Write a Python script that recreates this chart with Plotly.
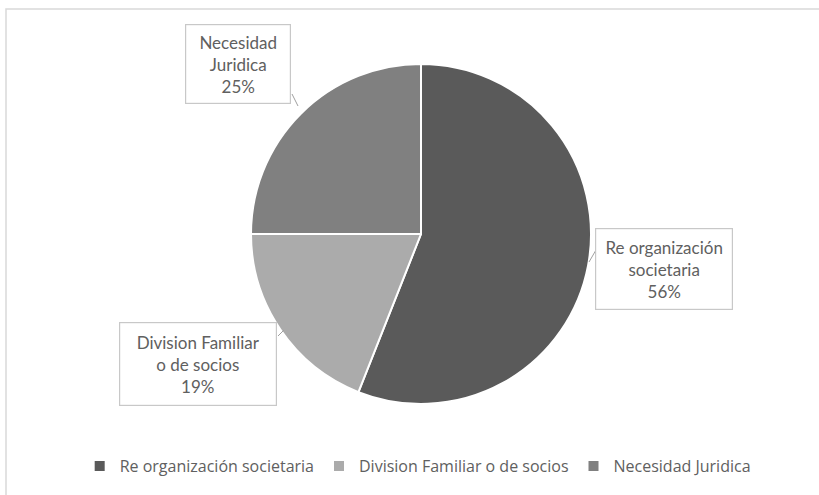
import plotly.graph_objects as go

# Chart data
categories = ["Re organización societaria", "Division Familiar o de socios", "Necesidad Juridica"]
callout_names = ["Re organización<br>societaria", "Division Familiar<br>o de socios", "Necesidad<br>Juridica"]
shares = [56, 19, 25]
slice_colors = ["#5a5a5a", "#ababab", "#808080"]

W, H = 819, 495


def px(x):
    return x / W


def py(y):
    return 1 - y / H


# pie centre / radius in pixels
cx, cy, r = 421, 234, 170

fig = go.Figure(
    go.Pie(
        labels=categories,
        values=shares,
        sort=False,
        direction="clockwise",
        rotation=0,
        marker=dict(colors=slice_colors, line=dict(color="white", width=2)),
        textinfo="none",
        hoverinfo="label+percent",
        domain=dict(x=[px(cx - r), px(cx + r)], y=[py(cy + r), py(cy - r)]),
    )
)

# callout boxes: centre x, centre y, width, height (pixels)
boxes = [(664, 269, 138, 82), (198, 364, 158, 84), (238, 64, 106, 80)]
total = sum(shares)
annotations = []
for name, val, (bx, by, bw, bh) in zip(callout_names, shares, boxes):
    annotations.append(
        dict(
            x=px(bx), y=py(by), xref="paper", yref="paper",
            xanchor="center", yanchor="middle",
            text=f"{name}<br>{round(100 * val / total)}%",
            showarrow=False,
            width=bw - 4, height=bh - 4,
            align="center", valign="middle",
            bordercolor="#c8c8c8", borderwidth=1.2, borderpad=1,
            bgcolor="white",
            font=dict(family="Lato", size=17, color="#606060"),
        )
    )

# short leader lines from boxes toward slices
leaders = [((596, 250), (589, 262)), ((278, 336), (284, 330)), ((292, 94), (298, 106))]
shapes = [
    dict(type="line", xref="paper", yref="paper",
         x0=px(a[0]), y0=py(a[1]), x1=px(b[0]), y1=py(b[1]),
         line=dict(color="#a0a0a0", width=1))
    for a, b in leaders
]
# chart area frame
shapes.append(dict(type="rect", xref="paper", yref="paper",
                   x0=px(6), y0=-0.02, x1=1.02, y1=py(9),
                   line=dict(color="#d9d9d9", width=1.5), layer="below"))

fig.update_layout(
    width=W, height=H,
    margin=dict(l=0, r=0, t=0, b=0),
    paper_bgcolor="white",
    plot_bgcolor="white",
    showlegend=True,
    legend=dict(
        orientation="h", x=0.51, xanchor="center", y=py(466), yanchor="middle",
        font=dict(family="Open Sans", size=16, color="#606060"),
        itemsizing="constant", traceorder="normal",
    ),
    annotations=annotations,
    shapes=shapes,
)

fig.write_html("out.html")
